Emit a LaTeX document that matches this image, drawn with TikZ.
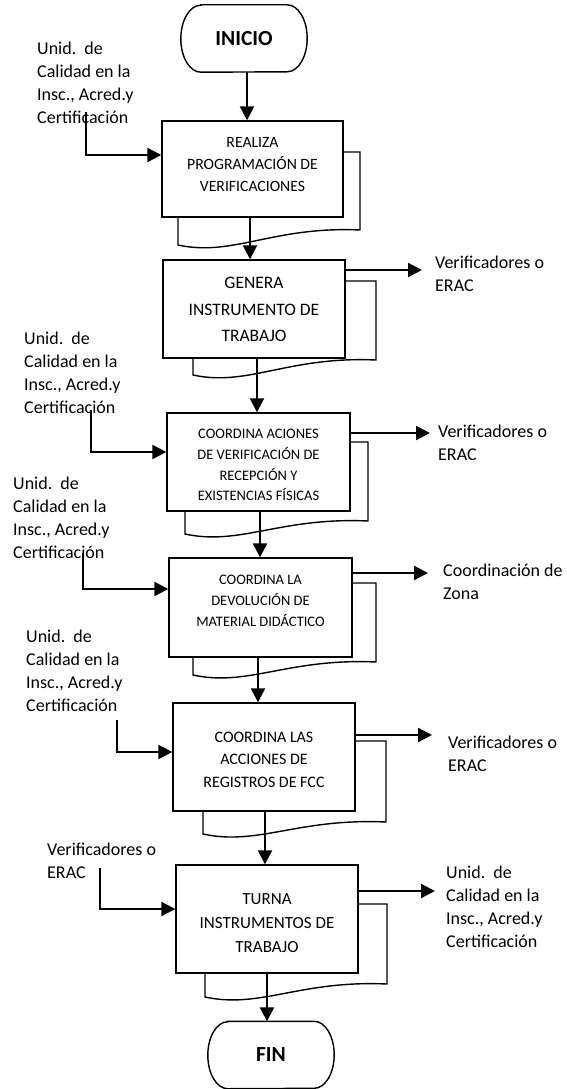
\documentclass[tikz,border=0pt]{standalone}
\usepackage{fontspec}
\setmainfont{Carlito}
\usetikzlibrary{arrows.meta}
\begin{document}
\begin{tikzpicture}[x=1pt,y=-1pt,
  box/.style={draw, line width=1.4pt, rectangle, inner sep=0pt, minimum width=182pt},
  btxt/.style={inner sep=0pt, align=center},
  term/.style={inner sep=0pt, minimum width=126pt, minimum height=67pt,
    font=\fontsize{21.5}{24}\selectfont\bfseries},
  termline/.style={line width=1.4pt},
  flow/.style={line width=2.2pt, -{Triangle[length=14pt,width=14pt]}},
  back/.style={line width=1.4pt, line join=miter},
  side/.style={inner sep=0pt, anchor=west, align=left, font=\fontsize{18}{23}\selectfont}
]
\useasboundingbox (0,0) rectangle (566,1089);

% ---------- terminators ----------
\node[term] (inicio) at (244,38.5) {INICIO};
\draw[termline] ([xshift=20pt]inicio.north west) -- ([xshift=-20pt]inicio.north east)
  arc[start angle=90, end angle=-90, x radius=20pt, y radius=33.5pt]
  -- ([xshift=20pt]inicio.south west)
  arc[start angle=270, end angle=90, x radius=20pt, y radius=33.5pt] -- cycle;

\node[term] (fin) at (271,1055) {FIN};
\draw[termline] ([xshift=20pt]fin.north west) -- ([xshift=-20pt]fin.north east)
  arc[start angle=90, end angle=-90, x radius=20pt, y radius=33.5pt]
  -- ([xshift=20pt]fin.south west)
  arc[start angle=270, end angle=90, x radius=20pt, y radius=33.5pt] -- cycle;

% ---------- document boxes: back sheet with wavy bottom ----------
\draw[back] (178,217) -- (178,245) .. controls (233,257) and (273,226) .. (360,230) -- (360,152) -- (343,152);
\draw[back] (193,358) -- (193,375) .. controls (248,387) and (288,356) .. (376,360) -- (376,281) -- (345,281);
\draw[back] (185,511) -- (185,534) .. controls (240,546) and (280,517) .. (368,521) -- (368,442) -- (350,442);
\draw[back] (193,657) -- (193,675) .. controls (248,687) and (288,658) .. (376,662) -- (376,583) -- (352,583);
\draw[back] (203,811) -- (203,834) .. controls (258,846) and (298,818) .. (386,822) -- (386,741) -- (355,741);
\draw[back] (205,973) -- (205,997) .. controls (260,1009) and (300,980) .. (387,984) -- (387,904) -- (358,904);

\node[box, minimum width=181pt, minimum height=96pt] (b1) at (252.5,169) {};
\node[btxt, font=\fontsize{15.7}{21.7}\selectfont] (t1) at (252.5,164.5)
  {REALIZA\\PROGRAMACIÓN DE\\VERIFICACIONES};

\node[box, minimum height=98pt] (b2) at (254,309) {};
\node[btxt, font=\fontsize{17.5}{26.5}\selectfont] (t2) at (254,309.5)
  {GENERA\\INSTRUMENTO DE\\TRABAJO};

\node[box, minimum width=183pt, minimum height=98pt] (b3) at (258.5,462) {};
\node[btxt, font=\fontsize{14.5}{20.7}\selectfont] (t3) at (258.5,465)
  {COORDINA ACIONES\\DE VERIFICACIÓN DE\\RECEPCIÓN Y\\EXISTENCIAS FÍSICAS};

\node[box, minimum width=183pt, minimum height=99pt] (b4) at (260.5,607.5) {};
\node[btxt, font=\fontsize{14.5}{21}\selectfont] (t4) at (260.5,601)
  {COORDINA LA\\DEVOLUCIÓN DE\\MATERIAL DIDÁCTICO};

\node[box, minimum height=108pt] (b5) at (264,757) {};
\node[btxt, font=\fontsize{16}{22.5}\selectfont] (t5) at (264,759.5)
  {COORDINA LAS\\ACCIONES DE\\REGISTROS DE FCC};

\node[box, minimum height=108pt] (b6) at (267,919) {};
\node[btxt, font=\fontsize{17}{24}\selectfont] (t6) at (267,923)
  {TURNA\\INSTRUMENTOS DE\\TRABAJO};

% ---------- main flow ----------
\coordinate (s0) at (247,72);
\coordinate (s1) at (250,217);
\coordinate (s2) at (257,358);
\coordinate (s3) at (260,511);
\coordinate (s4) at (258,657);
\coordinate (s5) at (265,811);
\coordinate (s6) at (267,973);
\draw[flow] (s0) -- (s0 |- b1.north);
\draw[flow] (s1) -- (s1 |- b2.north);
\draw[flow] (s2) -- (s2 |- b3.north);
\draw[flow] (s3) -- (s3 |- b4.north);
\draw[flow] (s4) -- (s4 |- b5.north);
\draw[flow] (s5) -- (s5 |- b6.north);
\draw[flow] (s6) -- (s6 |- fin.north);

% ---------- inputs on the left ----------
\node[side] (in1) at (37,83) {Unid.~~de\\Calidad en la\\Insc., Acred.y\\Certificación};
\node[side] (in2) at (24,373) {Unid.~~de\\Calidad en la\\Insc., Acred.y\\Certificación};
\node[side] (in3) at (13,518) {Unid.~~de\\Calidad en la\\Insc., Acred.y\\Certificación};
\node[side] (in4) at (26,671) {Unid.~~de\\Calidad en la\\Insc., Acred.y\\Certificación};
\node[side] (in5) at (47,860.5) {Verificadores o\\ERAC};

\coordinate (i1) at (86,112);  \coordinate (k1) at (86,155);
\coordinate (i2) at (91,410);  \coordinate (k2) at (91,452);
\coordinate (i3) at (83,553);  \coordinate (k3) at (83,589);
\coordinate (i4) at (117,720); \coordinate (k4) at (117,752);
\coordinate (i5) at (100,868); \coordinate (k5) at (100,909);
\draw[flow] (i1) -- (k1) -- (k1 -| b1.west);
\draw[flow] (i2) -- (k2) -- (k2 -| b3.west);
\draw[flow] (i3) -- (k3) -- (k3 -| b4.west);
\draw[flow] (i4) -- (k4) -- (k4 -| b5.west);
\draw[flow] (i5) -- (k5) -- (k5 -| b6.west);

% ---------- outputs on the right ----------
\coordinate (o2) at (422,270);
\coordinate (o3) at (430,433);
\coordinate (o4) at (428,573);
\coordinate (o5) at (432,735);
\coordinate (o6) at (435,891);
\draw[flow] (o2 -| b2.east) -- (o2);
\draw[flow] (o3 -| b3.east) -- (o3);
\draw[flow] (o4 -| b4.east) -- (o4);
\draw[flow] (o5 -| b5.east) -- (o5);
\draw[flow] (o6 -| b6.east) -- (o6);

\node[side] (out2) at (435,273.5) {Verificadores o\\ERAC};
\node[side] (out3) at (438,443) {Verificadores o\\ERAC};
\node[side] (out4) at (443,582) {Coordinación de\\Zona};
\node[side] (out5) at (448,754) {Verificadores o\\ERAC};
\node[side] (out6) at (446,907) {Unid.~~de\\Calidad en la\\Insc., Acred.y\\Certificación};
\end{tikzpicture}
\end{document}
